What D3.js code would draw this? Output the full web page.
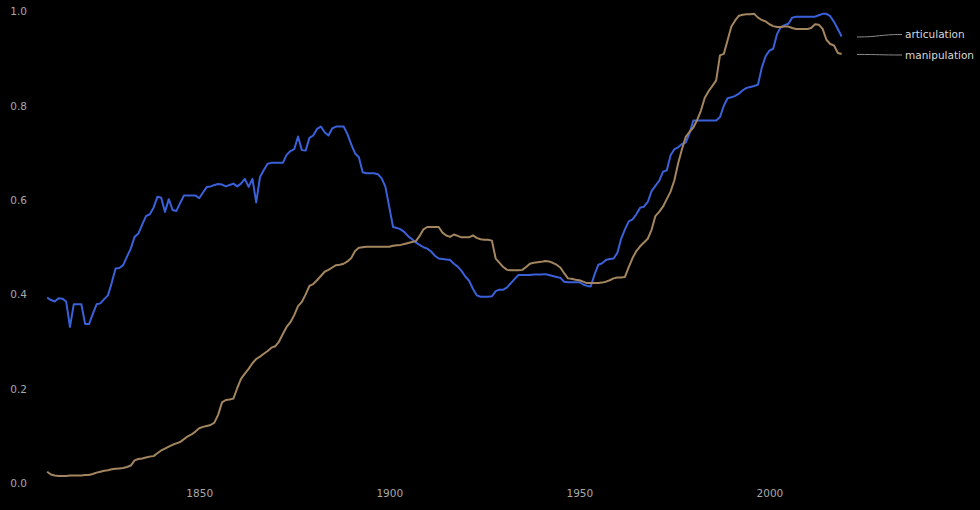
<!DOCTYPE html>
<html>
<head>
<meta charset="utf-8">
<script src="https://cdn.jsdelivr.net/npm/d3@7"></script>
<style>
  html, body { margin: 0; padding: 0; background: #000; }
  svg { display: block; }
  text { font-family: "DejaVu Sans", sans-serif; }
</style>
</head>
<body>
<svg id="chart" width="980" height="510"></svg>
<script>
const startYear = 1810;
const endYear = 2019;
const seriesNames = ["articulation", "manipulation"];
const seriesColors = ["#3a61d9", "#a3865f"];
const xTickValues = [1850, 1900, 1950, 2000];
const yTickValues = [0, 0.2, 0.4, 0.6, 0.8, 1.0];

const articulation = [
0.393,0.388,0.385,0.392,0.391,0.385,0.331,0.379,0.379,0.379,
0.337,0.337,0.358,0.379,0.381,0.390,0.398,0.425,0.455,0.456,
0.462,0.480,0.497,0.522,0.529,0.548,0.566,0.570,0.584,0.607,
0.605,0.575,0.602,0.579,0.577,0.594,0.610,0.610,0.610,0.610,
0.604,0.616,0.628,0.629,0.632,0.634,0.633,0.629,0.632,0.635,
0.629,0.635,0.645,0.628,0.645,0.595,0.649,0.664,0.677,0.679,
0.679,0.679,0.679,0.696,0.704,0.708,0.735,0.706,0.705,0.732,
0.737,0.751,0.756,0.744,0.737,0.752,0.756,0.756,0.756,0.740,
0.718,0.699,0.691,0.659,0.657,0.657,0.657,0.655,0.646,0.628,
0.585,0.543,0.541,0.538,0.532,0.523,0.517,0.510,0.505,0.500,
0.497,0.491,0.482,0.476,0.475,0.474,0.473,0.465,0.459,0.450,
0.438,0.429,0.412,0.398,0.395,0.395,0.395,0.396,0.407,0.410,
0.410,0.415,0.424,0.433,0.441,0.441,0.441,0.441,0.442,0.442,
0.442,0.443,0.441,0.439,0.437,0.435,0.427,0.426,0.426,0.426,
0.426,0.421,0.418,0.417,0.442,0.463,0.466,0.473,0.475,0.476,
0.488,0.518,0.538,0.555,0.559,0.570,0.584,0.586,0.596,0.619,
0.630,0.641,0.660,0.663,0.695,0.708,0.712,0.719,0.722,0.742,
0.769,0.769,0.769,0.769,0.769,0.769,0.769,0.776,0.800,0.816,
0.818,0.821,0.826,0.833,0.838,0.840,0.842,0.845,0.881,0.905,
0.917,0.921,0.952,0.967,0.971,0.974,0.987,0.989,0.989,0.989,
0.989,0.989,0.989,0.992,0.995,0.995,0.990,0.978,0.963,0.947
];

const manipulation = [
0.024,0.018,0.016,0.015,0.015,0.015,0.016,0.016,0.016,0.016,
0.017,0.017,0.019,0.022,0.024,0.026,0.027,0.029,0.030,0.031,
0.032,0.034,0.037,0.048,0.051,0.052,0.054,0.056,0.057,0.063,
0.069,0.073,0.077,0.081,0.084,0.087,0.093,0.099,0.103,0.109,
0.116,0.119,0.121,0.123,0.128,0.145,0.171,0.176,0.177,0.179,
0.201,0.221,0.232,0.242,0.254,0.263,0.268,0.274,0.280,0.287,
0.290,0.300,0.316,0.331,0.341,0.356,0.375,0.384,0.400,0.418,
0.422,0.430,0.439,0.448,0.452,0.457,0.462,0.463,0.465,0.470,
0.477,0.492,0.499,0.500,0.501,0.501,0.501,0.501,0.501,0.501,
0.501,0.503,0.504,0.505,0.507,0.509,0.511,0.513,0.524,0.538,
0.543,0.543,0.543,0.543,0.531,0.525,0.522,0.527,0.524,0.521,
0.521,0.521,0.525,0.520,0.517,0.516,0.516,0.514,0.476,0.467,
0.458,0.452,0.451,0.451,0.451,0.452,0.458,0.465,0.467,0.468,
0.469,0.471,0.470,0.467,0.463,0.457,0.445,0.434,0.433,0.431,
0.430,0.427,0.424,0.424,0.424,0.424,0.425,0.427,0.430,0.434,
0.436,0.436,0.437,0.458,0.477,0.492,0.502,0.510,0.518,0.537,
0.566,0.575,0.586,0.602,0.618,0.642,0.678,0.708,0.734,0.745,
0.754,0.770,0.790,0.817,0.831,0.842,0.854,0.907,0.910,0.939,
0.968,0.981,0.991,0.993,0.994,0.994,0.995,0.987,0.982,0.979,
0.973,0.969,0.967,0.967,0.968,0.968,0.965,0.963,0.963,0.963,
0.963,0.965,0.973,0.972,0.963,0.940,0.931,0.928,0.912,0.910
];

const years = d3.range(startYear, endYear + 1);
const seriesValues = [articulation, manipulation];

const svg = d3.select("#chart");
svg.append("rect").attr("width", 980).attr("height", 510).attr("fill", "#000");

const x = d3.scaleLinear().domain([1850, 2000]).range([199.2, 769.4]);
const y = d3.scaleLinear().domain([0, 1]).range([483, 11.5]);

// x axis
const xAxis = svg.append("g").attr("transform", "translate(0,493)")
  .call(d3.axisBottom(x).tickValues(xTickValues).tickFormat(d3.format("d")).tickSize(0).tickPadding(0));
xAxis.select(".domain").remove();
xAxis.selectAll("text").attr("fill", "#a8a8a8").attr("font-size", "10.5px")
  .attr("dy", "0.35em").attr("font-family", "DejaVu Sans, sans-serif");

// y axis
const yAxis = svg.append("g").attr("transform", "translate(27,0)")
  .call(d3.axisLeft(y).tickValues(yTickValues).tickFormat(d3.format(".1f")).tickSize(0).tickPadding(0));
yAxis.select(".domain").remove();
yAxis.selectAll("text").attr("fill", "#a8a8a8").attr("font-size", "10.5px")
  .attr("font-family", "DejaVu Sans, sans-serif");

const line = d3.line().x((d, i) => x(years[i])).y(d => y(d));

seriesValues.forEach((vals, k) => {
  svg.append("path")
    .datum(vals)
    .attr("fill", "none")
    .attr("stroke", seriesColors[k])
    .attr("stroke-width", 2)
    .attr("stroke-linejoin", "round")
    .attr("d", line);
});

// end labels with leader lines
const labelY = [34.5, 55];
const link = d3.linkHorizontal();
seriesValues.forEach((vals, k) => {
  const yEnd = y(vals[vals.length - 1]);
  svg.append("path")
    .attr("fill", "none")
    .attr("stroke", "#8a8a8a")
    .attr("stroke-width", 1)
    .attr("d", link({source: [857, yEnd + 0.5], target: [902, labelY[k]]}));
  svg.append("text")
    .attr("x", 905)
    .attr("y", labelY[k])
    .attr("dy", "0.35em")
    .attr("fill", "#d8d8d8")
    .attr("font-size", "10.5px")
    .text(seriesNames[k]);
});
</script>
</body>
</html>
